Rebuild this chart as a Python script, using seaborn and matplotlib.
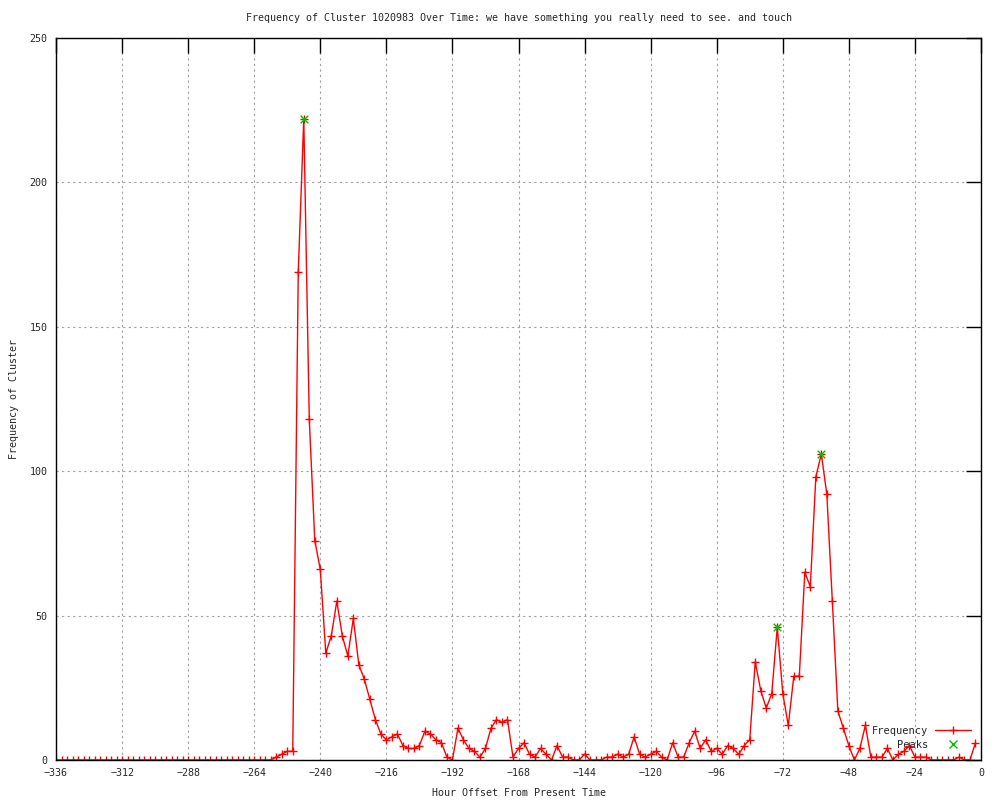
import matplotlib
matplotlib.use("Agg")
import matplotlib.pyplot as plt
from matplotlib.lines import Line2D
import numpy as np
import pandas as pd
import seaborn as sns

# frequency per 2-hour bucket, oldest first (-336 .. -2)
frequency = [0] * 40 + [
    1, 2, 3, 3,
    169, 222, 118, 76, 66,
    37, 43, 55, 43, 36, 49, 33, 28, 21, 14,
    9, 7, 8, 9, 5, 4, 4, 5, 10, 9,
    7, 6, 1, 0, 11, 7, 4, 3, 1, 4,
    11, 14, 13, 14, 1, 4, 6, 2, 1, 4,
    2, 0, 5, 1, 1, 0, 0, 2, 0, 0,
    0, 1, 1, 2, 1, 2, 8, 2, 1, 2,
    3, 1, 0, 6, 1, 1, 6, 10, 4, 7,
    3, 4, 2, 5, 4, 2, 5, 7, 34, 24,
    18, 23, 46, 23, 12, 29, 29, 65, 60, 98,
    106, 92, 55, 17, 11, 5, 0, 4, 12, 1,
    1, 1, 4, 0, 2, 3, 5, 1, 1, 1,
    0, 0, 0, 0, 0, 1, 0, 0, 6,
]
hours = list(range(-336, 0, 2))

peak_hours = [-246, -74, -58]
peak_values = [222, 46, 106]

x_ticks = list(range(-336, 1, 24))
y_ticks = [0, 50, 100, 150, 200, 250]

title = "Frequency of Cluster 1020983 Over Time: we have something you really need to see. and touch"

df = pd.DataFrame({"hour": hours, "frequency": frequency})
peaks = pd.DataFrame({"hour": peak_hours, "frequency": peak_values})

sns.set_style("white")
plt.rcParams["font.family"] = ["DejaVu Sans Mono", "DejaVu Sans"]
plt.rcParams["font.size"] = 7

fig = plt.figure(figsize=(10, 8), dpi=100)
ax = fig.add_axes([0.056, 0.05, 0.925, 0.9025])

sns.lineplot(data=df, x="hour", y="frequency", ax=ax, color="red", linewidth=1,
             marker="+", markersize=6, markeredgecolor="red", markeredgewidth=1)
sns.scatterplot(data=peaks, x="hour", y="frequency", ax=ax, color="#00c000",
                marker="x", s=30, linewidth=1, zorder=5)

ax.set_xlim(-336, 0)
ax.set_ylim(0, 250)
ax.set_xticks(x_ticks)
ax.set_yticks(y_ticks)
ax.grid(True, color="#a0a0a0", linestyle=(0, (2, 3)), linewidth=0.8)
ax.set_axisbelow(True)
ax.tick_params(direction="in", length=11, width=1, color="black",
               top=True, right=True, labelsize=7.2, pad=6)
for sp in ax.spines.values():
    sp.set_color("black")
    sp.set_linewidth(1)

ax.set_title(title, fontsize=7.2, pad=12)
ax.set_xlabel("Hour Offset From Present Time", fontsize=7.2, labelpad=7)
ax.set_ylabel("Frequency of Cluster", fontsize=7.2, labelpad=8)

handles = [
    Line2D([], [], color="red", linewidth=1, marker="+", markersize=6, markeredgewidth=1),
    Line2D([], [], color="#00c000", linestyle="none", marker="x", markersize=6, markeredgewidth=1),
]
ax.legend(handles, ["Frequency", "    Peaks"], loc="lower right", frameon=False,
          markerfirst=False, handlelength=3.4, handletextpad=0.7, labelspacing=0.35,
          borderaxespad=0.6, fontsize=7.5)

fig.savefig("out.png", dpi=100)
